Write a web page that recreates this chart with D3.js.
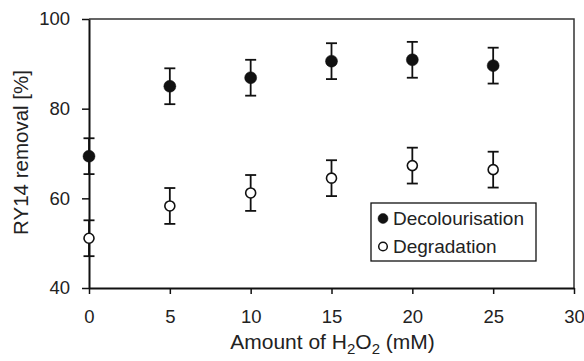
<!DOCTYPE html>
<html>
<head>
<meta charset="utf-8">
<script src="https://cdn.jsdelivr.net/npm/d3@7.9.0/dist/d3.min.js"></script>
<style>
  body { margin: 0; background: #fff; }
  svg { display: block; font-family: "Liberation Sans", Arial, Helvetica, sans-serif; }
</style>
</head>
<body>
<svg id="chart" width="584" height="361"></svg>
<script>
// H2O2 amounts (mM)
const doses = [0, 5, 10, 15, 20, 25];
const decolourisation = [69.4, 85.0, 86.9, 90.6, 90.9, 89.6];
const degradation = [51.1, 58.3, 61.2, 64.5, 67.3, 66.4];
const decolourisationErr = [4, 4, 4, 4, 4, 4];
const degradationErr = [4, 4, 4, 4, 4, 4];
const xTicks = [0, 5, 10, 15, 20, 25, 30];
const yTicks = [40, 60, 80, 100];

const svg = d3.select('#chart');
const margin = { top: 19, right: 10, bottom: 73, left: 89 };
const width = 584 - margin.left - margin.right;
const height = 361 - margin.top - margin.bottom;

const x = d3.scaleLinear().domain([0, 30]).range([margin.left, margin.left + width]);
const y = d3.scaleLinear().domain([40, 100]).range([margin.top + height, margin.top]);

const ink = '#111';

// frame (top + right)
svg.append('path')
  .attr('d', `M${x(0)},${y(100)}H${x(30)}V${y(40)}`)
  .attr('fill', 'none')
  .attr('stroke', '#333')
  .attr('stroke-width', 1.5);

const xAxis = svg.append('g')
  .attr('transform', `translate(0,${y(40)})`)
  .call(d3.axisBottom(x).tickValues(xTicks).tickSize(6).tickSizeOuter(0).tickPadding(16));

const yAxis = svg.append('g')
  .attr('transform', `translate(${x(0)},0)`)
  .call(d3.axisLeft(y).tickValues(yTicks).tickSize(7).tickSizeOuter(0).tickPadding(12));

for (const ax of [xAxis, yAxis]) {
  ax.select('.domain').attr('stroke', ink).attr('stroke-width', 2);
  ax.selectAll('.tick line').attr('stroke', ink).attr('stroke-width', 1.5);
  ax.selectAll('.tick text')
    .attr('fill', '#222')
    .style('font-size', '18.5px')
    .style('font-family', '"Liberation Sans", Arial, sans-serif');
}

// axis titles
const xTitle = svg.append('text')
  .attr('x', (x(0) + x(30)) / 2 + 1)
  .attr('y', 349)
  .attr('text-anchor', 'middle')
  .attr('fill', '#222')
  .style('font-size', '21px');
xTitle.append('tspan').text('Amount of H');
xTitle.append('tspan').attr('dy', 5).style('font-size', '15px').text('2');
xTitle.append('tspan').attr('dy', -5).text('O');
xTitle.append('tspan').attr('dy', 5).style('font-size', '15px').text('2');
xTitle.append('tspan').attr('dy', -5).text(' (mM)');

svg.append('text')
  .attr('transform', `translate(28,${(y(40) + y(100)) / 2 - 1}) rotate(-90)`)
  .attr('text-anchor', 'middle')
  .attr('fill', '#222')
  .style('font-size', '20.5px')
  .text('RY14 removal [%]');

// error bars + markers
function drawSeries(values, errs, filled, r) {
  const data = doses.map((d, i) => ({ x: d, y: values[i], e: errs[i] }));
  const g = svg.append('g');
  const bars = g.selectAll('g.err').data(data).join('g').attr('class', 'err');
  bars.append('line')
    .attr('x1', (d) => x(d.x)).attr('x2', (d) => x(d.x))
    .attr('y1', (d) => y(d.y - d.e)).attr('y2', (d) => y(d.y + d.e))
    .attr('stroke', ink).attr('stroke-width', 1.8);
  for (const sign of [-1, 1]) {
    bars.append('line')
      .attr('x1', (d) => x(d.x) - 5.5).attr('x2', (d) => x(d.x) + 5.5)
      .attr('y1', (d) => y(d.y + sign * d.e)).attr('y2', (d) => y(d.y + sign * d.e))
      .attr('stroke', ink).attr('stroke-width', 1.8);
  }
  g.selectAll('circle').data(data).join('circle')
    .attr('cx', (d) => x(d.x))
    .attr('cy', (d) => y(d.y))
    .attr('r', r)
    .attr('fill', filled ? ink : '#fff')
    .attr('stroke', ink)
    .attr('stroke-width', filled ? 0.5 : 1.6);
}

drawSeries(decolourisation, decolourisationErr, true, 6);
drawSeries(degradation, degradationErr, false, 5);

// legend
const legend = svg.append('g');
legend.append('rect')
  .attr('x', 371).attr('y', 203)
  .attr('width', 165).attr('height', 58)
  .attr('fill', '#fff')
  .attr('stroke', ink)
  .attr('stroke-width', 1.3);

const legendItems = [
  { label: 'Decolourisation', filled: true },
  { label: 'Degradation', filled: false },
];
legendItems.forEach((item, i) => {
  const cy = 218.5 + i * 28;
  legend.append('circle')
    .attr('cx', 383).attr('cy', cy)
    .attr('r', item.filled ? 5 : 4.3)
    .attr('fill', item.filled ? ink : '#fff')
    .attr('stroke', ink)
    .attr('stroke-width', item.filled ? 0.5 : 1.5);
  legend.append('text')
    .attr('x', 393).attr('y', cy + 6.5)
    .attr('fill', '#222')
    .style('font-size', '19px')
    .text(item.label);
});
</script>
</body>
</html>
